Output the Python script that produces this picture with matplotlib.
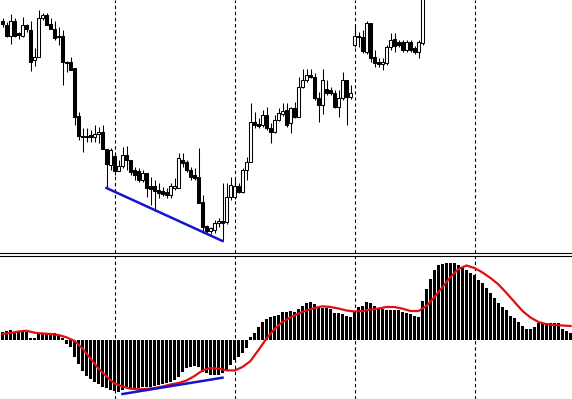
import matplotlib
matplotlib.use("Agg")
import matplotlib.pyplot as plt
import numpy as np

# candles (bar 0 .. 105), price units
opens = [229, 225, 214, 229, 217, 214, 225, 220, 190, 193, 232, 235, 226, 221, 214, 214,
         188, 188, 182, 134, 114, 114, 115, 113, 116, 118, 101, 85, 94, 79, 84, 95,
         90, 80, 79, 70, 77, 64, 64, 60, 59, 58, 55, 62, 62, 90, 88, 80,
         75, 73, 48, 24, 19, 20, 27, 29, 28, 53, 53, 64, 58, 80, 88, 128,
         126, 125, 135, 122, 118, 130, 136, 140, 127, 142, 133, 163, 170, 175, 173, 152,
         145, 161, 160, 157, 143, 152, 170, 153, 205, 214, 213, 198, 227, 193, 188, 186,
         187, 203, 211, 208, 208, 200, 208, 202, 198, 207]
highs = [232, 228, 236, 232, 218, 233, 226, 229, 202, 240, 237, 237, 232, 229, 223, 220,
         189, 193, 182, 138, 122, 122, 120, 125, 123, 125, 101, 102, 97, 90, 103, 104,
         90, 83, 82, 80, 77, 73, 70, 67, 63, 62, 67, 72, 97, 97, 90, 83,
         82, 102, 55, 25, 23, 30, 32, 67, 67, 73, 72, 67, 82, 93, 147, 138,
         132, 140, 143, 127, 135, 142, 147, 147, 143, 148, 173, 181, 181, 181, 177, 158,
         181, 170, 163, 160, 160, 178, 170, 165, 225, 218, 220, 229, 227, 200, 192, 192,
         205, 217, 217, 210, 210, 210, 210, 204, 210, 320]
lows = [223, 213, 206, 213, 211, 213, 218, 179, 184, 193, 230, 225, 221, 210, 205, 165,
        178, 180, 125, 110, 98, 108, 108, 108, 107, 101, 62, 80, 75, 79, 82, 80,
        75, 70, 68, 68, 53, 45, 39, 52, 54, 52, 52, 60, 62, 83, 78, 70,
        70, 47, 17, 16, 16, 17, 23, 9, 26, 50, 51, 57, 57, 70, 88, 122,
        122, 123, 120, 107, 117, 129, 134, 123, 117, 132, 133, 162, 168, 172, 150, 128,
        136, 155, 155, 142, 133, 150, 125, 151, 203, 203, 197, 196, 188, 183, 183, 180,
        185, 200, 198, 203, 198, 198, 198, 196, 192, 205]
closes = [226, 214, 229, 214, 215, 225, 221, 188, 193, 232, 235, 225, 221, 212, 213, 188,
          187, 180, 133, 114, 113, 113, 113, 116, 118, 101, 86, 100, 79, 84, 95, 90,
          78, 75, 70, 77, 62, 61, 59, 57, 56, 55, 64, 64, 92, 87, 80, 73,
          72, 47, 23, 19, 22, 27, 29, 27, 53, 65, 64, 58, 80, 88, 128, 125,
          124, 135, 122, 118, 130, 137, 139, 125, 142, 133, 163, 170, 175, 173, 152, 145,
          170, 157, 157, 143, 152, 170, 153, 157, 214, 213, 199, 227, 192, 187, 186, 188,
          203, 210, 204, 205, 200, 208, 200, 198, 208, 310]

# MACD histogram (bar 0 .. 142)
hist = [7.8, 8.8, 9.5, 7.8, 7.8, 8.8, 7.8, 1.8, 1.8, 6.2, 6.2, 6.2, 6.2, 6.5, 4.5, 1.5,
        -4.5, -7.5, -17, -24.5, -31, -36, -39.5, -42.2, -44, -47.2, -48.8, -50, -51.7, -52, -50.5, -48.8,
        -48.8, -48.8, -48.8, -47.2, -47.2, -47.2, -46.5, -45.5, -44.5, -43.2, -42.2, -40.5, -37.2, -32.2, -28.8, -27.2,
        -26.5, -27.2, -32.2, -33.8, -35.5, -35.5, -35.5, -33.8, -30.5, -25.5, -20.5, -17.2, -13.8, -8.8, 2.2, 6.8,
        12.8, 17.8, 20.2, 22.2, 23.5, 24.5, 27.8, 27.8, 28.8, 27.8, 30.2, 33.5, 36.8, 37.8, 35.5, 32.8,
        31.2, 31.2, 30.2, 26.2, 26.2, 25.5, 23.5, 22.8, 27.8, 32.8, 33.5, 37.8, 36.8, 33.5, 30.2, 30.2,
        29.5, 29.5, 29.5, 29.5, 27.8, 26.8, 25.5, 23.5, 22.2, 38.8, 50.2, 60.2, 69.5, 74.5, 75.5, 76.2,
        76.2, 76.2, 74.5, 72.8, 69.5, 66.2, 64.5, 59.5, 56.2, 51.2, 46.2, 41.2, 36.8, 32.8, 29.5, 23.5,
        21.2, 17.8, 13.5, 10.2, 10.2, 12.2, 16.2, 16.2, 16.2, 16.8, 16.2, 16.2, 10.2, 8.8, 6.2]

# signal line, every second bar (0, 2, ..., 142)
signal_bars = list(range(0, 143, 2))
signal = [5.5, 6.5, 8, 8.8, 6.8, 6, 5.5, 4.5, 2.2, -1.5, -9, -19, -29, -37, -44, -47,
          -49.2, -49.8, -49.5, -48.5, -47, -45, -43.5, -41, -36.5, -31, -28.5, -29.2, -30.8, -31, -27.5, -21.5,
          -10.5, 1, 10.5, 17.5, 22.2, 26, 29, 31.5, 33.2, 32.5, 31, 29, 28, 28.5, 30, 31,
          32.5, 32.5, 30.8, 28.5, 28.5, 33.5, 42.5, 52.5, 62.5, 70.5, 74, 71.5, 67, 61.5,
          55, 46.5, 37.5, 28.5, 22, 17.5, 15.2, 14.5, 14, 13.5]

# divergence lines: (bar, value)
price_div = ([26, 55], [62, 9])
macd_div = ([30, 55], [-54.5, -38.2])

# period separators
separators = [28, 58, 88, 118]

W, H = 572, 399
fig = plt.figure(figsize=(W / 100, H / 100), dpi=100)
fig.patch.set_facecolor("white")

top_split = 253.0
bot_split = 256.0
ax1 = fig.add_axes([0, (H - top_split) / H, 1, top_split / H])
ax2 = fig.add_axes([0, 0, 1, (H - bot_split) / H])

xlim = (-0.625, 142.375)

# price panel
n = len(opens)
x = np.arange(n)
ax1.vlines(x, lows, highs, color="black", lw=0.75, zorder=2)
for i in range(n):
    lo = min(opens[i], closes[i])
    hi = max(opens[i], closes[i])
    face = "white" if closes[i] > opens[i] else "black"
    ax1.bar(i, max(hi - lo, 0.8), bottom=lo, width=0.68, color=face,
            edgecolor="black", linewidth=0.75, zorder=3)
ax1.plot(price_div[0], price_div[1], color="#1414c8", lw=1.8, zorder=4)
ax1.set_xlim(*xlim)
ax1.set_ylim(-3.0, 250)

# MACD panel
xb = np.arange(len(hist))
ax2.bar(xb, hist, width=0.75, color="black", linewidth=0, zorder=2)
ax2.plot(signal_bars, signal, color="#e01010", lw=1.6, zorder=3)
ax2.plot(macd_div[0], macd_div[1], color="#1414c8", lw=1.8, zorder=4)
ax2.set_xlim(*xlim)
ax2.set_ylim(-59.5, 83.5)

for ax in (ax1, ax2):
    for b in separators:
        ax.axvline(b, color="black", lw=0.8, linestyle=(0, (3, 2.5)), zorder=1)
    ax.set_xticks([])
    ax.set_yticks([])
    for s in ("left", "right"):
        ax.spines[s].set_visible(False)

ax1.spines["top"].set_visible(False)
ax1.spines["bottom"].set_linewidth(0.8)
ax2.spines["bottom"].set_visible(False)
ax2.spines["top"].set_linewidth(0.8)

fig.savefig("out.png", dpi=100, facecolor="white")
